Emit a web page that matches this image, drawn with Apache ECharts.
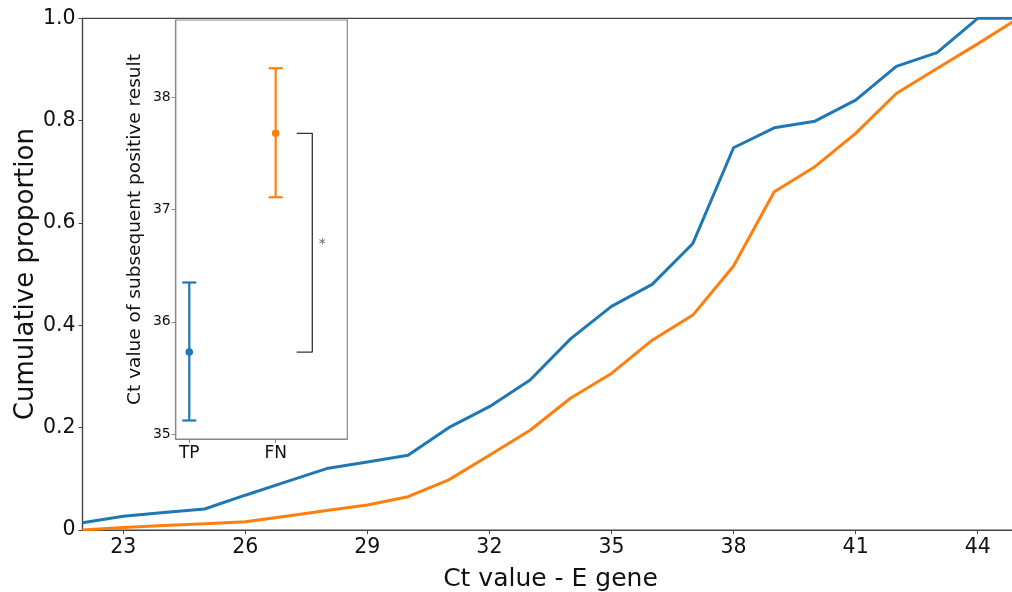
<!DOCTYPE html>
<html><head><meta charset="utf-8">
<script src="https://cdn.jsdelivr.net/npm/echarts@6/dist/echarts.min.js"></script>
<style>html,body{margin:0;padding:0;background:#fff}#c{width:1012px;height:592px}</style>
</head><body><div id="c"></div>
<script>
const ctValues = [22,23,24,25,26,27,28,29,30,31,32,33,34,35,36,37,38,39,40,41,42,43,44,45];
const tpCumulative = [0.014,0.027,0.034,0.041,0.068,0.094,0.120,0.133,0.146,0.200,0.241,0.293,0.374,0.437,0.480,0.560,0.747,0.786,0.799,0.840,0.906,0.933,1.0,1.0];
const fnCumulative = [0.0,0.005,0.009,0.012,0.016,0.027,0.038,0.049,0.065,0.098,0.146,0.195,0.258,0.306,0.371,0.420,0.516,0.661,0.710,0.775,0.853,0.902,0.950,1.0];
const xTickValues = [23,26,29,32,35,38,41,44];
const yTickValues = [0,0.2,0.4,0.6,0.8,1.0];

const insetGroups = ['TP','FN'];
const insetMean = [35.73,37.68];
const insetLower = [35.12,37.11];
const insetUpper = [36.35,38.26];
const insetTicks = [35,36,37,38];
const bracketPath = [[1.243,37.68],[1.424,37.68],[1.424,35.73],[1.243,35.73]];
const starPos = [1.54,36.69];

const BLUE = '#1f77b4', ORANGE = '#ff7f0e';
const FONT = 'DejaVu Sans';
const chart = echarts.init(document.getElementById('c'), null, {renderer:'canvas'});

const errData = insetGroups.map((g,i)=>[i, insetMean[i], insetLower[i], insetUpper[i]]);

chart.setOption({
  animation:false,
  backgroundColor:'#fff',
  grid:[
    {left:82.5, right:-6.4, top:18.3, bottom:62, outerBoundsMode:'none', containLabel:false, show:true, borderColor:'#444', borderWidth:1.2, backgroundColor:'transparent'},
    {left:175.7, right:664.7, top:20, bottom:153, outerBoundsMode:'none', containLabel:false, show:true, borderColor:'#888', borderWidth:1.2, backgroundColor:'#fff', z:5}
  ],
  xAxis:[
    {type:'value', gridIndex:0, min:22, max:45,
     name:'Ct value - E gene', nameLocation:'middle', nameGap:37, nameMoveOverlap:false,
     nameTextStyle:{fontFamily:FONT, fontSize:25, color:'#111'},
     axisLine:{show:true, onZero:false, lineStyle:{color:'#444', width:1.2}},
     axisTick:{show:true, inside:false, length:4, customValues:xTickValues, lineStyle:{color:'#444'}},
     axisLabel:{customValues:xTickValues, fontFamily:FONT, fontSize:20.5, color:'#111', margin:7},
     splitLine:{show:false}},
    {type:'value', gridIndex:1, min:-0.157, max:1.829, z:6,
     axisLine:{show:true, onZero:false, lineStyle:{color:'#888', width:1.2}},
     axisTick:{show:true, length:4, customValues:[0,1], lineStyle:{color:'#888'}},
     axisLabel:{customValues:[0,1], formatter:v=>insetGroups[Math.round(v)], fontFamily:FONT, fontSize:17, color:'#111', margin:6},
     splitLine:{show:false}}
  ],
  yAxis:[
    {type:'value', gridIndex:0, min:0, max:1,
     name:'Cumulative proportion', nameLocation:'middle', nameGap:43, nameRotate:90, nameMoveOverlap:false,
     nameTextStyle:{fontFamily:FONT, fontSize:26, color:'#111'},
     axisLine:{show:true, onZero:false, lineStyle:{color:'#444', width:1.2}},
     axisTick:{show:true, length:4, customValues:yTickValues, lineStyle:{color:'#444'}},
     axisLabel:{customValues:yTickValues, formatter:v=>v===0?'0':v.toFixed(1), fontFamily:FONT, fontSize:20.5, color:'#111', margin:7},
     splitLine:{show:false}},
    {type:'value', gridIndex:1, min:34.955, max:38.69, z:6,
     name:'Ct value of subsequent positive result', nameLocation:'middle', nameGap:31, nameRotate:90, nameMoveOverlap:false,
     nameTextStyle:{fontFamily:FONT, fontSize:18.5, color:'#111'},
     axisLine:{show:true, onZero:false, lineStyle:{color:'#888', width:1.2}},
     axisTick:{show:true, length:4, customValues:insetTicks, lineStyle:{color:'#888'}},
     axisLabel:{customValues:insetTicks, fontFamily:FONT, fontSize:14, color:'#111', margin:5},
     splitLine:{show:false}}
  ],
  series:[
    {type:'line', xAxisIndex:0, yAxisIndex:0, data:ctValues.map((x,i)=>[x,tpCumulative[i]]),
     showSymbol:false, lineStyle:{color:BLUE, width:3}, itemStyle:{color:BLUE}, z:2},
    {type:'line', xAxisIndex:0, yAxisIndex:0, data:ctValues.map((x,i)=>[x,fnCumulative[i]]),
     showSymbol:false, lineStyle:{color:ORANGE, width:3}, itemStyle:{color:ORANGE}, z:2},
    {type:'custom', xAxisIndex:1, yAxisIndex:1, data:errData, z:10,
     renderItem:(params, api)=>{
       const i = api.value(0);
       const col = i===0?BLUE:ORANGE;
       const pm = api.coord([i, api.value(1)]);
       const pl = api.coord([i, api.value(2)]);
       const pu = api.coord([i, api.value(3)]);
       const cap = 7;
       return {type:'group', children:[
         {type:'line', shape:{x1:pl[0],y1:pl[1],x2:pu[0],y2:pu[1]}, style:{stroke:col, lineWidth:2.2}},
         {type:'line', shape:{x1:pl[0]-cap,y1:pl[1],x2:pl[0]+cap,y2:pl[1]}, style:{stroke:col, lineWidth:2.2}},
         {type:'line', shape:{x1:pu[0]-cap,y1:pu[1],x2:pu[0]+cap,y2:pu[1]}, style:{stroke:col, lineWidth:2.2}},
         {type:'circle', shape:{cx:pm[0], cy:pm[1], r:3.8}, style:{fill:col}}
       ]};
     }},
    {type:'line', xAxisIndex:1, yAxisIndex:1, data:bracketPath, showSymbol:false, z:10,
     lineStyle:{color:'#333', width:1.3}, itemStyle:{color:'#333'}},
    {type:'scatter', xAxisIndex:1, yAxisIndex:1, data:[starPos], symbolSize:0, z:10,
     label:{show:true, formatter:'*', position:'inside', fontFamily:FONT, fontSize:14, color:'#333'}}
  ]
});
</script></body></html>
